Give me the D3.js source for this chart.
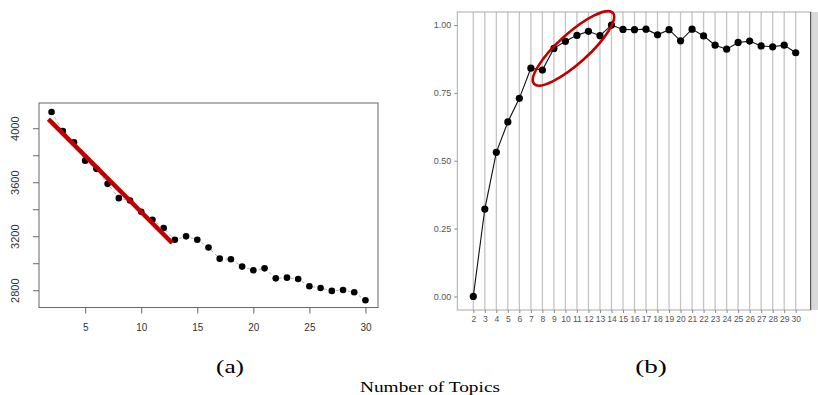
<!DOCTYPE html>
<html>
<head>
<meta charset="utf-8">
<script src="https://cdn.jsdelivr.net/npm/d3@7"></script>
<style>
  body { margin: 0; background: #fff; }
  text { font-family: "Liberation Sans", Arial, sans-serif; }
  .cap { font-family: "Liberation Serif", "Times New Roman", serif; fill: #000; }
</style>
</head>
<body>
<svg id="fig" width="818" height="395"></svg>
<script>
// number of topics (shared x categories)
const topics = [2, 3, 4, 5, 6, 7, 8, 9, 10, 11, 12, 13, 14, 15, 16, 17, 18, 19, 20, 21, 22, 23, 24, 25, 26, 27, 28, 29, 30];

// (a) perplexity-like score
const scoreA = [4120, 3980, 3896, 3760, 3699, 3588, 3482, 3465, 3381, 3322, 3261, 3174, 3199, 3174,
  3117, 3034, 3029, 2975, 2948, 2962, 2888, 2893, 2883, 2829, 2817, 2795, 2802, 2785, 2726];
// red trend line end points (topic, value)
const trendTopics = [1.72, 12.76];
const trendValues = [4067, 3150];
const xTicksA = [5, 10, 15, 20, 25, 30];
const yTicksA = [2800, 3000, 3200, 3400, 3600, 3800, 4000];
const yLabelsA = [2800, 3200, 3600, 4000];

// (b) normalised coherence
const scoreB = [0.000, 0.322, 0.531, 0.643, 0.730, 0.841, 0.834, 0.914, 0.940, 0.962, 0.977, 0.961, 1.000,
  0.984, 0.983, 0.985, 0.964, 0.983, 0.942, 0.985, 0.960, 0.926, 0.911, 0.936, 0.941, 0.923, 0.920, 0.926, 0.898];
const yTicksB = [0, 0.25, 0.5, 0.75, 1];
// centre of the highlighted region (topic, value)
const highlight = [10.7, 0.914];

const svg = d3.select("#fig");
const red = "#c00000";

// ---------- panel (a) ----------
const xA = d3.scaleLinear().domain([0.88, 31.12]).range([39, 378]);
const yA = d3.scaleLinear().domain([2672, 4187]).range([307.5, 103]);

const gA = svg.append("g");

gA.append("rect")
  .attr("x", xA.range()[0]).attr("y", yA.range()[1])
  .attr("width", xA.range()[1] - xA.range()[0])
  .attr("height", yA.range()[0] - yA.range()[1])
  .attr("fill", "none").attr("stroke", "#666").attr("stroke-width", 1);

const axA = gA.append("g")
  .attr("transform", `translate(0,${yA.range()[0]})`)
  .call(d3.axisBottom(xA).tickValues(xTicksA).tickSize(6).tickPadding(10));
axA.select(".domain").remove();
axA.selectAll("line").attr("stroke", "#666");
axA.selectAll("text").attr("fill", "#333").style("font-size", "10px");

const ayA = gA.append("g")
  .attr("transform", `translate(${xA.range()[0]},0)`)
  .call(d3.axisLeft(yA).tickValues(yTicksA).tickSize(6)
    .tickFormat(d => yLabelsA.includes(d) ? d : ""));
ayA.select(".domain").remove();
ayA.selectAll("line").attr("stroke", "#666");
ayA.selectAll("text")
  .attr("transform", "rotate(-90)")
  .attr("x", 0).attr("y", -20).attr("dy", 0)
  .attr("text-anchor", "middle")
  .attr("fill", "#333").style("font-size", "11px");

gA.append("path")
  .datum(topics.map((t, i) => [t, scoreA[i]]))
  .attr("d", d3.line().x(d => xA(d[0])).y(d => yA(d[1])))
  .attr("fill", "none").attr("stroke", "#999").attr("stroke-width", 0.8)
  .attr("stroke-dasharray", "3,3");

gA.selectAll("circle.pa")
  .data(topics.map((t, i) => [t, scoreA[i]]))
  .join("circle").attr("class", "pa")
  .attr("cx", d => xA(d[0])).attr("cy", d => yA(d[1]))
  .attr("r", 3.3).attr("fill", "#000");

gA.append("line")
  .attr("x1", xA(trendTopics[0])).attr("y1", yA(trendValues[0]))
  .attr("x2", xA(trendTopics[1])).attr("y2", yA(trendValues[1]))
  .attr("stroke", red).attr("stroke-width", 4.5);

// ---------- panel (b) ----------
const xB = d3.scaleLinear().domain([2, 30]).range([473.3, 795.7]);
const yB = d3.scaleLinear().domain([-0.05, 1.05]).range([310, 11.5]);
const pLeft = 457.3, pRight = 810.7, pTop = 12, pBottom = 310;

const gB = svg.append("g");

gB.selectAll("line.grid")
  .data(topics)
  .join("line").attr("class", "grid")
  .attr("x1", d => xB(d)).attr("x2", d => xB(d))
  .attr("y1", pTop).attr("y2", pBottom)
  .attr("stroke", "#c4c4c4").attr("stroke-width", 1.3);

gB.append("rect")
  .attr("x", pLeft).attr("y", pTop)
  .attr("width", pRight - pLeft).attr("height", pBottom - pTop)
  .attr("fill", "none").attr("stroke", "#aaa").attr("stroke-width", 1);

// facet strip peeking in on the right
gB.append("rect")
  .attr("x", pRight).attr("y", pTop)
  .attr("width", 20).attr("height", pBottom - pTop)
  .attr("fill", "#d9d9d9");
gB.append("line")
  .attr("x1", pRight).attr("x2", pRight).attr("y1", pTop).attr("y2", pBottom)
  .attr("stroke", "#444").attr("stroke-width", 1);

const axB = gB.append("g")
  .attr("transform", `translate(0,${pBottom})`)
  .call(d3.axisBottom(xB).tickValues(topics).tickSize(3).tickPadding(3));
axB.select(".domain").remove();
axB.selectAll("line").attr("stroke", "#888");
axB.selectAll("text").attr("fill", "#555").style("font-size", "8.5px");

const ayB = gB.append("g")
  .attr("transform", `translate(${pLeft},0)`)
  .call(d3.axisLeft(yB).tickValues(yTicksB).tickSize(3).tickPadding(3).tickFormat(d3.format(".2f")));
ayB.select(".domain").remove();
ayB.selectAll("line").attr("stroke", "#888");
ayB.selectAll("text").attr("fill", "#555").style("font-size", "9px");

gB.append("path")
  .datum(topics.map((t, i) => [t, scoreB[i]]))
  .attr("d", d3.line().x(d => xB(d[0])).y(d => yB(d[1])))
  .attr("fill", "none").attr("stroke", "#111").attr("stroke-width", 1.1);

gB.selectAll("circle.pb")
  .data(topics.map((t, i) => [t, scoreB[i]]))
  .join("circle").attr("class", "pb")
  .attr("cx", d => xB(d[0])).attr("cy", d => yB(d[1]))
  .attr("r", 3.6).attr("fill", "#000");

gB.append("ellipse")
  .attr("transform", `translate(${xB(highlight[0])},${yB(highlight[1])}) rotate(-42)`)
  .attr("rx", 53).attr("ry", 15)
  .attr("fill", "none").attr("stroke", red).attr("stroke-width", 2.6);

// ---------- captions ----------
svg.append("text").attr("class", "cap")
  .attr("x", 230).attr("y", 373).attr("text-anchor", "middle")
  .attr("textLength", 28).attr("lengthAdjust", "spacingAndGlyphs")
  .style("font-size", "19px").text("(a)");
svg.append("text").attr("class", "cap")
  .attr("x", 651).attr("y", 373).attr("text-anchor", "middle")
  .attr("textLength", 31.5).attr("lengthAdjust", "spacingAndGlyphs")
  .style("font-size", "19px").text("(b)");
svg.append("text").attr("class", "cap")
  .attr("x", 430).attr("y", 392).attr("text-anchor", "middle")
  .attr("textLength", 140).attr("lengthAdjust", "spacingAndGlyphs")
  .style("font-size", "15px").text("Number of Topics");
</script>
</body>
</html>
